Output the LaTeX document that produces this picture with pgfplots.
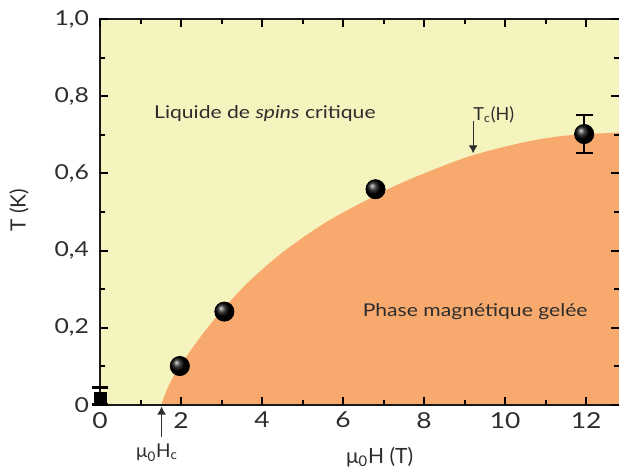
\documentclass[border=0pt]{standalone}
\usepackage{fontspec}
\setmainfont{Lato}[FakeStretch=1.2]
\newfontfamily\plainfont{Lato}
\usepackage{pgfplots}
\pgfplotsset{compat=1.18}
\usetikzlibrary{arrows.meta}
\definecolor{bgy}{RGB}{245,243,190}
\definecolor{org}{RGB}{248,170,110}
\definecolor{txt}{RGB}{45,45,45}
\begin{document}
\begin{tikzpicture}
\useasboundingbox (-50pt,-31.5pt) rectangle (259.5pt,202.5pt);
\begin{axis}[
  scale only axis, width=259.5pt, height=193pt,
  xmin=0, xmax=12.81, ymin=0, ymax=1,
  clip=false, axis on top,
  axis background/.style={fill=bgy},
  axis line style={draw=none},
  xtick={0,2,4,6,8,10,12}, minor xtick={1,3,5,7,9,11},
  ytick={0,0.2,0.4,0.6,0.8,1.0},
  yticklabels={0,{0,2},{0,4},{0,6},{0,8},{1,0}},
  minor ytick={0.1,0.3,0.5,0.7,0.9},
  tick align=inside,
  major tick length=4pt, minor tick length=2.5pt,
  every tick/.style={line width=1pt, black},
  /pgf/number format/assume math mode=true,
  xticklabel style={font=\fontsize{11}{13}\selectfont, text=txt},
  yticklabel style={font=\fontsize{10.3}{12}\selectfont, text=txt, xshift=-2pt},
]
\addplot[draw=none, fill=org, smooth, tension=0.5] coordinates {
 (1.51,0) (1.72,0.056) (2.0,0.105) (2.4,0.165) (2.87,0.228) (3.6,0.312)
 (4.5,0.395) (5.65,0.478) (7.13,0.560) (8.0,0.600) (9.17,0.646)
 (10.48,0.681) (11.5,0.698) (12.81,0.706)} \closedcycle;
% error bars (bar with caps)
\addplot[black, line width=1.3pt, mark=-, mark size=4.2pt] coordinates {(11.95,0.653) (11.95,0.751)};
\addplot[black, line width=1.3pt, mark=-, mark size=3.8pt] coordinates {(0,0.002) (0,0.045)};
\addplot[only marks, mark=square*, mark size=3pt, black] coordinates {(0,0.016)};
\addplot[only marks, mark=ball, mark size=4.8pt, ball color=black]
  coordinates {(1.97,0.101) (3.07,0.242) (6.80,0.559) (11.95,0.702)};
% axis frame (left, bottom, top)
\draw[line width=1.3pt, black!90] (rel axis cs:1,1) -- (rel axis cs:0,1) -- (rel axis cs:0,0) -- (rel axis cs:1,0);
% annotations
\node[text=txt, font=\fontsize{8.8}{10}\selectfont] at (axis cs:4.07,0.756) {Liquide de \textit{spins} critique};
\node[text=txt, font=\fontsize{8.8}{10}\selectfont] at (axis cs:9.26,0.241) {Phase magnétique gelée};
\node[text=txt, font=\plainfont\fontsize{9}{10}\selectfont] at (axis cs:9.72,0.752) {T\textsubscript{c}(H)};
\draw[txt, line width=0.6pt, -{Latex[length=4pt,width=4.5pt]}] (axis cs:9.21,0.735) -- (axis cs:9.21,0.652);
\node[text=txt, font=\plainfont\fontsize{9.5}{10}\selectfont] at (axis cs:1.41,-0.124) {μ\textsubscript{0}H\textsubscript{c}};
\draw[txt, line width=0.6pt, -{Latex[length=4pt,width=4.5pt]}] (axis cs:1.52,-0.082) -- (axis cs:1.52,-0.004);
\node[text=txt, font=\plainfont\fontsize{10.5}{12}\selectfont] at (axis cs:6.9,-0.135) {μ\textsubscript{0}H (T)};
\node[text=txt, font=\plainfont\fontsize{10.5}{12}\selectfont, rotate=90] at (axis cs:-2.0,0.505) {T (K)};
\end{axis}
\end{tikzpicture}
\end{document}
